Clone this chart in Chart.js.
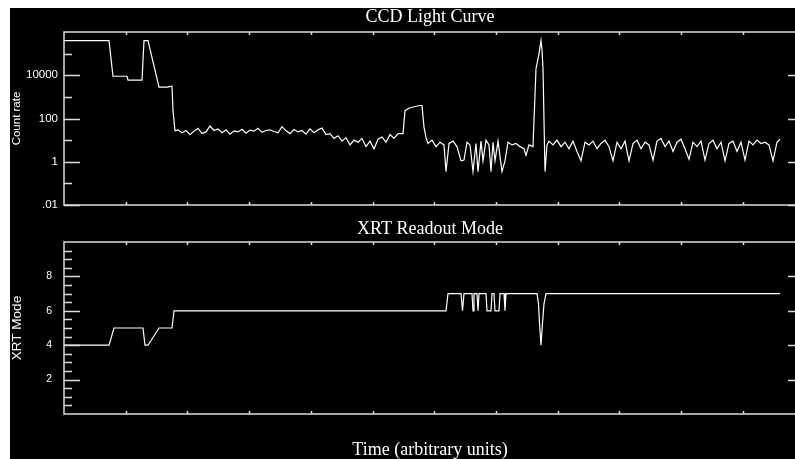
<!DOCTYPE html>
<html>
<head>
<meta charset="utf-8">
<script src="https://cdn.jsdelivr.net/npm/chart.js@4.4.0/dist/chart.umd.min.js"></script>
<style>
  html, body { margin: 0; padding: 0; background: #fff; overflow: hidden; }
  #frame { position: absolute; left: 10px; top: 8px; width: 785px; height: 451px; background: #000; overflow: hidden; }
  #frame canvas { position: absolute; left: 0; }
</style>
</head>
<body>
<div id="frame">
  <canvas id="rateChart" width="790" height="212" style="top:0"></canvas>
  <canvas id="modeChart" width="790" height="239" style="top:212px"></canvas>
</div>
<script>
// time in arbitrary units
const rateTime = [
  0, 45, 49, 63, 64, 78, 80, 84, 95, 103, 108, 109, 111,
  114, 118, 122, 126, 130, 134, 138, 142, 146, 150, 154, 158, 162, 166, 170, 174, 178, 182, 186,
  190, 194, 198, 202, 206, 210, 214, 218, 222, 226, 230, 234, 238, 242, 246, 250, 254, 258, 262,
  266, 270, 274, 278, 282, 286, 290, 294, 298, 302, 306, 310, 314, 318, 322, 326, 330, 334,
  339, 341, 345, 350, 356, 358, 360, 362,
  364, 368, 372, 376, 380, 382, 385, 389, 393, 397, 400, 403, 406, 409, 412, 414, 417, 419, 422,
  425, 427, 429, 431, 434, 438, 441, 444, 448, 452, 456, 460, 462, 465, 469,
  472, 475, 477, 478, 479, 481, 483,
  485, 489, 493, 497, 501, 505, 509, 513, 517, 521, 525, 529, 533, 537, 541, 545, 549, 553, 557,
  561, 565, 569, 573, 577, 581, 585, 589, 593, 597, 601, 605, 609, 613, 617, 621, 625, 629, 633,
  637, 641, 645, 649, 653, 657, 661, 665, 669, 673, 677, 681, 685, 689, 693, 697, 701, 705, 709,
  713, 716
];
const rateValue = [
  4e5, 4e5, 9000, 9000, 6000, 6000, 4e5, 4e5, 2800, 2800, 3100, 230, 27,
  30, 22, 28, 18, 26, 35, 20, 24, 45, 28, 33, 22, 30, 19, 27, 24, 32, 21, 29,
  26, 35, 23, 28, 30, 25, 22, 42, 27, 20, 31, 24, 28, 19, 33, 22, 30, 36, 18,
  20, 12, 16, 9, 13, 6, 10, 8, 12, 5, 9, 4, 11, 14, 8, 18, 12, 20,
  20, 230, 300, 350, 400, 400, 40, 13,
  7, 10, 5, 8, 6, 0.35, 7, 9, 5, 1.1, 1.2, 8, 6, 0.35, 7, 0.35, 9, 1.1, 10,
  6, 0.35, 8, 1.1, 9, 0.35, 1.1, 8, 6, 7, 5, 4, 2, 6, 5,
  2e4, 1e5, 4e5, 1.5e5, 2e4, 0.35, 6,
  9, 6, 10, 5, 8, 4, 9, 3, 1.1, 8, 6, 9, 4, 7, 10, 5, 1.1, 8, 4,
  9, 1.1, 7, 10, 4, 8, 6, 1.2, 9, 12, 5, 9, 3, 8, 11, 4, 1.3, 8, 5,
  9, 1.2, 7, 10, 4, 8, 1.1, 7, 9, 3, 8, 1.2, 9, 6, 10, 7, 8, 6, 1.1,
  8, 11
];

const modeTime = [0, 45, 50, 79, 81, 84, 95, 108, 110, 382, 384, 397, 398.5, 400, 408, 409, 410,
  413, 414, 415, 422, 423, 427, 428, 430, 431, 435, 436, 440, 441, 442,
  473, 474.5, 475.5, 477, 478.5, 480, 482, 716];
const modeValue = [4, 4, 5, 5, 4, 4, 5, 5, 6, 6, 7, 7, 6, 7, 7, 6, 7,
  7, 6, 7, 7, 6, 6, 7, 7, 6, 6, 7, 7, 6, 7,
  7, 6.4, 5.3, 4, 5.3, 6.4, 7, 7];

// axis ticks
const timeTicks = [61.7, 123.4, 185.1, 246.8, 308.5, 370.2, 431.9, 493.6, 555.3, 617, 678.7, 740.4];
const rateTicks = [0.01, 0.1, 1, 10, 100, 1000, 10000, 100000];
const rateMajor = [0.01, 1, 100, 10000];
const rateLabels = [".01", "1", "100", "10000"];
const modeTicks = [0.5, 1, 1.5, 2, 2.5, 3, 3.5, 4, 4.5, 5, 5.5, 6, 6.5, 7, 7.5, 8, 8.5, 9, 9.5];
const modeMajor = [2, 4, 6, 8];

const serif = "'Liberation Serif', 'Times New Roman', serif";
const sans = "'Liberation Sans', Arial, sans-serif";

// box round the plot and short inward ticks, like the original plot
const frameTicks = {
  id: "frameTicks",
  afterDatasetsDraw(chart, args, opts) {
    const { ctx, chartArea: a } = chart;
    const x = chart.scales.x, y = chart.scales.y;
    ctx.save();
    ctx.strokeStyle = "#dcdcdc";
    ctx.lineWidth = 1.5;
    ctx.strokeRect(a.left, a.top, a.right - a.left, a.bottom - a.top);
    ctx.beginPath();
    opts.yTicks.forEach(v => {
      const py = Math.round(y.getPixelForValue(v)) + 0.5;
      const major = opts.yMajor.includes(v);
      ctx.moveTo(a.left, py);
      ctx.lineTo(a.left + (major ? 16 : 8), py);
      if (major) {
        ctx.moveTo(a.right, py);
        ctx.lineTo(a.right - 8, py);
      }
    });
    timeTicks.forEach(v => {
      const px = Math.round(x.getPixelForValue(v)) + 0.5;
      ctx.moveTo(px, a.top);
      ctx.lineTo(px, a.top + 3);
      ctx.moveTo(px, a.bottom);
      ctx.lineTo(px, a.bottom - 3);
    });
    ctx.stroke();
    ctx.restore();
  }
};

function xScale(height, title) {
  return {
    type: "linear",
    min: 0,
    max: 732,
    ticks: { display: false },
    grid: { display: false, drawTicks: false },
    border: { display: false },
    title: title,
    afterFit: s => { s.height = height; }
  };
}

new Chart(document.getElementById("rateChart"), {
  type: "line",
  data: {
    datasets: [{
      data: rateTime.map((t, i) => ({ x: t, y: rateValue[i] })),
      borderColor: "#fff",
      borderWidth: 1.2,
      pointRadius: 0,
      tension: 0
    }]
  },
  options: {
    responsive: false,
    animation: false,
    layout: { padding: { left: 0, right: 4, top: 0, bottom: 0 } },
    plugins: {
      legend: { display: false },
      tooltip: { enabled: false },
      title: {
        display: true,
        text: "CCD Light Curve",
        color: "#fff",
        fullSize: false,
        font: { family: serif, size: 18, weight: "normal", lineHeight: 1 },
        padding: { top: 0, bottom: 6 }
      },
      frameTicks: { yTicks: rateTicks, yMajor: rateMajor }
    },
    scales: {
      x: xScale(15, { display: false }),
      y: {
        type: "logarithmic",
        min: 0.01,
        max: 1e6,
        afterBuildTicks: s => { s.ticks = rateTicks.map(v => ({ value: v })); },
        afterFit: s => { s.width = 54; },
        ticks: {
          autoSkip: false,
          color: "#fff",
          padding: 6,
          font: { family: sans, size: 11.5 },
          callback: v => {
            const k = rateMajor.indexOf(v);
            return k >= 0 ? rateLabels[k] : "";
          }
        },
        grid: { display: false, drawTicks: false },
        border: { display: false },
        title: {
          display: true,
          text: "Count rate",
          color: "#fff",
          font: { family: sans, size: 11.5, lineHeight: 1 },
          padding: { top: 1.5, bottom: 0 }
        }
      }
    }
  },
  plugins: [frameTicks]
});

new Chart(document.getElementById("modeChart"), {
  type: "line",
  data: {
    datasets: [{
      data: modeTime.map((t, i) => ({ x: t, y: modeValue[i] })),
      borderColor: "#fff",
      borderWidth: 1.2,
      pointRadius: 0,
      tension: 0
    }]
  },
  options: {
    responsive: false,
    animation: false,
    layout: { padding: { left: 0, right: 4, top: 0, bottom: 0 } },
    plugins: {
      legend: { display: false },
      tooltip: { enabled: false },
      title: {
        display: true,
        text: "XRT Readout Mode",
        color: "#fff",
        fullSize: false,
        font: { family: serif, size: 18, weight: "normal", lineHeight: 1 },
        padding: { top: 0, bottom: 4 }
      },
      frameTicks: { yTicks: modeTicks, yMajor: modeMajor }
    },
    scales: {
      x: xScale(45, {
        display: true,
        text: "Time (arbitrary units)",
        color: "#fff",
        font: { family: serif, size: 18, lineHeight: 0.7 },
        padding: { top: 0, bottom: 2 }
      }),
      y: {
        type: "linear",
        min: 0,
        max: 10,
        afterBuildTicks: s => { s.ticks = modeTicks.map(v => ({ value: v })); },
        afterFit: s => { s.width = 54; },
        ticks: {
          autoSkip: false,
          color: "#fff",
          padding: 12,
          font: { family: sans, size: 10.5 },
          callback: v => (modeMajor.includes(v) ? String(v) : "")
        },
        grid: { display: false, drawTicks: false },
        border: { display: false },
        title: {
          display: true,
          text: "XRT Mode",
          color: "#fff",
          font: { family: sans, size: 13.5, lineHeight: 1 },
          padding: { top: 0.75, bottom: 0 }
        }
      }
    }
  },
  plugins: [frameTicks]
});
</script>
</body>
</html>
